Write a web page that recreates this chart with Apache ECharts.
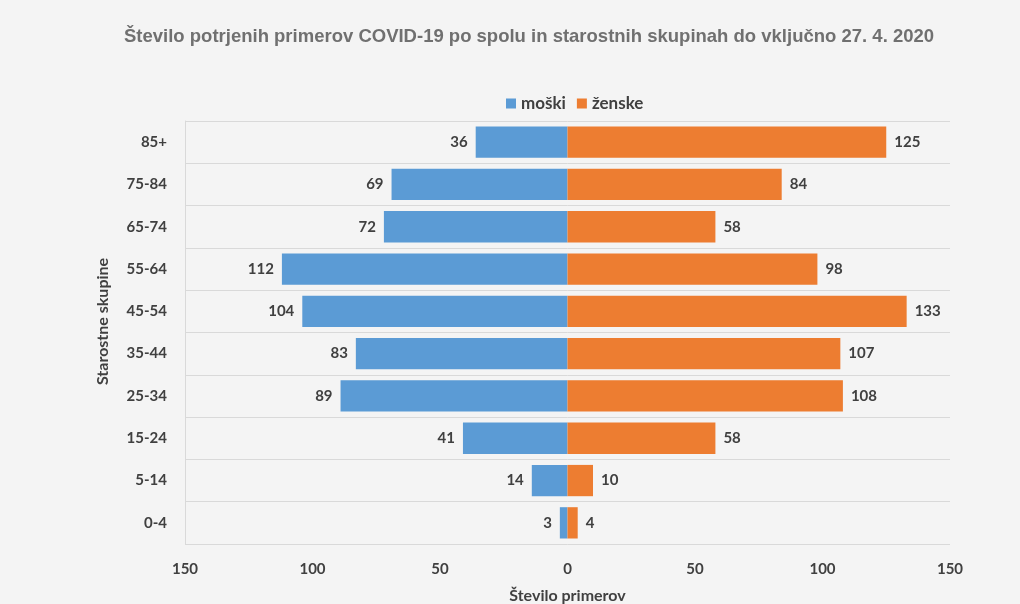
<!DOCTYPE html>
<html>
<head>
<meta charset="utf-8">
<script src="https://cdn.jsdelivr.net/npm/echarts@6/dist/echarts.min.js"></script>
<style>
  html, body { margin: 0; padding: 0; background: #f4f4f4; }
  #chart { width: 1020px; height: 604px; }
</style>
</head>
<body>
<div id="chart"></div>
<script>
// Age groups, bottom to top
const ageGroups = ['0-4', '5-14', '15-24', '25-34', '35-44', '45-54', '55-64', '65-74', '75-84', '85+'];
// Confirmed cases by sex
const men = [3, 14, 41, 89, 83, 104, 112, 72, 69, 36];
const women = [4, 10, 58, 108, 107, 133, 98, 58, 84, 125];
const xTicks = [-150, -100, -50, 0, 50, 100, 150];

const labelFont = 'Lato, "Open Sans", sans-serif';
const chart = echarts.init(document.getElementById('chart'));
chart.setOption({
  backgroundColor: '#f4f4f4',
  animation: false,
  title: {
    text: 'Število potrjenih primerov COVID-19 po spolu in starostnih skupinah do vključno 27. 4. 2020',
    left: 119,
    top: 22,
    textStyle: { color: '#707070', fontSize: 18.5, fontWeight: 'bold', fontFamily: '"Liberation Sans", Arial, sans-serif' }
  },
  legend: {
    top: 90,
    left: 501,
    itemWidth: 10,
    itemHeight: 10,
    itemGap: 11,
    icon: 'rect',
    textStyle: { color: '#404040', fontSize: 17, fontWeight: 'bold', fontFamily: labelFont }
  },
  grid: { left: 185, right: 70, top: 121, bottom: 60, outerBoundsMode: 'none', containLabel: false },
  xAxis: {
    type: 'value',
    min: xTicks[0],
    max: xTicks[xTicks.length - 1],
    interval: 50,
    name: 'Število primerov',
    nameLocation: 'middle',
    nameGap: 44,
    nameTextStyle: { color: '#404040', fontSize: 16, fontWeight: 'bold', fontFamily: labelFont },
    axisLine: { show: false },
    axisTick: { show: false },
    splitLine: { show: false },
    axisLabel: {
      color: '#404040', fontSize: 15, fontWeight: 'bold', fontFamily: labelFont, margin: 18,
      formatter: v => String(Math.abs(v))
    }
  },
  yAxis: {
    type: 'category',
    data: ageGroups,
    name: 'Starostne skupine',
    nameLocation: 'middle',
    nameGap: 74,
    nameRotate: 90,
    nameTextStyle: { color: '#404040', fontSize: 16, fontWeight: 'bold', fontFamily: labelFont, padding: [0, 0, 0, 22] },
    axisLine: { show: true, onZero: false, lineStyle: { color: '#d9d9d9' } },
    axisTick: { show: false },
    splitLine: { show: true, lineStyle: { color: '#d9d9d9', width: 1 } },
    axisLabel: { color: '#404040', fontSize: 15, fontWeight: 'bold', fontFamily: labelFont, margin: 18 }
  },
  series: [
    {
      name: 'moški',
      type: 'bar',
      stack: 'total',
      barCategoryGap: '26%',
      itemStyle: { color: '#5b9bd5' },
      label: {
        show: true, position: 'left', distance: 8,
        color: '#404040', fontSize: 15, fontWeight: 'bold', fontFamily: labelFont,
        formatter: p => String(Math.abs(p.value))
      },
      data: men.map(v => -v)
    },
    {
      name: 'ženske',
      type: 'bar',
      stack: 'total',
      barCategoryGap: '26%',
      itemStyle: { color: '#ed7d31' },
      label: {
        show: true, position: 'right', distance: 8,
        color: '#404040', fontSize: 15, fontWeight: 'bold', fontFamily: labelFont
      },
      data: women
    }
  ]
});
</script>
</body>
</html>
